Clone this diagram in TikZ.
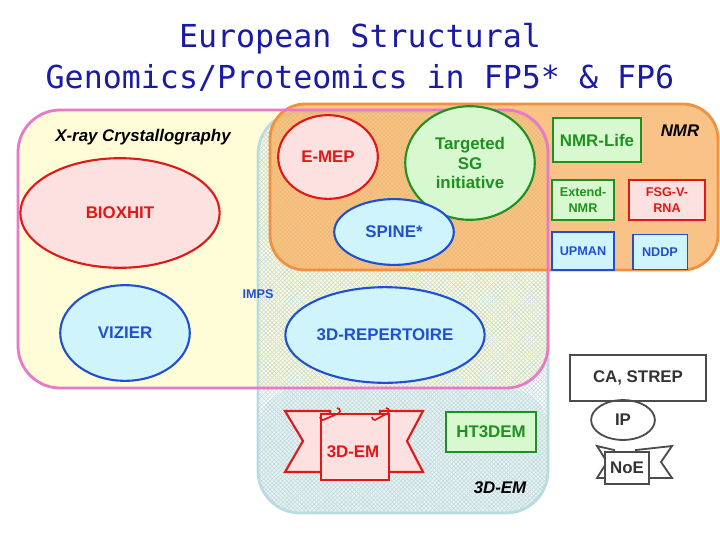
\documentclass[tikz,border=0pt]{standalone}
\usepackage{fontspec}
\setmainfont{Liberation Sans}
\newfontfamily\titlefont{DejaVu Sans Mono}
\usetikzlibrary{patterns,shapes.geometric}
\newcommand\px[1]{#1*0.7087pt}
\definecolor{tblue}{HTML}{1A1AA8}
\definecolor{pinkb}{HTML}{E878C8}
\definecolor{yell}{HTML}{FFFDD8}
\definecolor{orf}{HTML}{F8B060}
\definecolor{orb}{HTML}{F09040}
\definecolor{cyb}{HTML}{B8DCE0}
\definecolor{redb}{HTML}{E01818}
\definecolor{redf}{HTML}{FDE0E0}
\definecolor{grb}{HTML}{209020}
\definecolor{grf}{HTML}{D8F8D0}
\definecolor{blb}{HTML}{2050D0}
\definecolor{blf}{HTML}{D0F4FC}
\tikzset{
 ell/.style={ellipse,line width=1.5pt,inner sep=0pt,font=\bfseries\large},
 redell/.style={ell,draw=redb,fill=redf,text=redb},
 grell/.style={ell,draw=grb,fill=grf,text=grb},
 blell/.style={ell,draw=blb,fill=blf,text=blb},
 box/.style={rectangle,line width=1.3pt,align=center,inner sep=0pt,font=\bfseries\small},
 grbox/.style={box,draw=grb,fill=grf,text=grb},
 redbox/.style={box,draw=redb,fill=redf,text=redb},
 blbox/.style={box,draw=blb,fill=blf,text=blb},
 label/.style={font=\bfseries\itshape\large}
}
\begin{document}
\begin{tikzpicture}[x=0.025cm,y=-0.025cm]
\useasboundingbox (0,0) rectangle (720,540);
\fill[white] (0,0) rectangle (720,540);
\node[text=tblue,font=\titlefont\fontsize{22.5}{29}\selectfont,align=center] (title) at (360,57) {European Structural\\Genomics/Proteomics in FP5* \& FP6};
\fill[yell,rounded corners=30] (18,110) rectangle (548,388);
\fill[cyb!35,rounded corners=30] (258,388) rectangle (548,513);
\fill[pattern=crosshatch,pattern color=cyb!80!gray!70,rounded corners=30] (258,112) rectangle (548,513);
\draw[cyb,line width=2pt,rounded corners=30] (258,112) rectangle (548,513);
\fill[orf,opacity=0.75,rounded corners=25] (270,104) rectangle (718,270);
\draw[orb,line width=2pt,rounded corners=25] (270,104) rectangle (718,270);
\draw[pinkb,line width=2pt,rounded corners=30] (18,110) rectangle (548,388);
\node[label,font=\bfseries\itshape\large] (xray) at (143,137) {X-ray Crystallography};
\node[label] (nmrl) at (680,131) {NMR};
\node[label] (eml) at (500,488) {3D-EM};
\node[redell,minimum width=\px{200},minimum height=\px{110}] (bioxhit) at (120,213) {BIOXHIT};
\node[blell,minimum width=\px{130},minimum height=\px{96}] (vizier) at (125,333) {VIZIER};
\node[redell,minimum width=\px{100},minimum height=\px{84}] (emep) at (328,157) {E-MEP};
\node[grell,minimum width=\px{130},minimum height=\px{114},align=center] (tsg) at (470,163) {Targeted\\SG\\initiative};
\node[blell,minimum width=\px{120},minimum height=\px{66}] (spine) at (394,232) {SPINE*};
\node[text=blb,font=\bfseries\small] (imps) at (258,294) {IMPS};
\node[blell,minimum width=\px{200},minimum height=\px{96}] (rep) at (385,335) {3D-REPERTOIRE};
\node[grbox,minimum width=\px{88},minimum height=\px{44},font=\bfseries\large] (nmrlife) at (597,140) {NMR-Life};
\node[grbox,minimum width=\px{62},minimum height=\px{40}] (ext) at (583,200) {Extend-\\NMR};
\node[redbox,minimum width=\px{77},minimum height=\px{40}] (fsg) at (667,200) {FSG-V-\\RNA};
\node[blbox,minimum width=\px{62},minimum height=\px{38}] (upman) at (583,251) {UPMAN};
\node[blbox,minimum width=\px{55},minimum height=\px{35}] (nddp) at (660,252) {NDDP};
\node[box,draw=black!70,minimum width=\px{136},minimum height=\px{46},font=\bfseries\large,text=black!80] (ca) at (638,378) {CA, STREP};
\node[ellipse,draw=black!70,line width=1.3pt,minimum width=\px{64},minimum height=\px{40},inner sep=0pt,font=\bfseries\large,text=black!80] (ip) at (623,420) {IP};
\draw[black!70,line width=1.3pt,fill=white] (597,446)--(614,450)--(614,478)--(597,478)--(607,462)--cycle;
\draw[black!70,line width=1.3pt,fill=white] (672,446)--(636,450)--(636,478)--(672,478)--(661,462)--cycle;
\node[box,draw=black!70,fill=white,minimum width=\px{44},minimum height=\px{32},font=\bfseries\large,text=black!80] (noe) at (627,468) {NoE};
\draw[redb,line width=1.5pt,fill=redf] (285,411)--(330,411)--(330,472)--(285,472)--(303,441)--cycle;
\draw[redb,line width=1.5pt,fill=redf] (423,411)--(380,411)--(380,472)--(423,472)--(407,441)--cycle;
\node[box,draw=redb,fill=redf,minimum width=\px{69},minimum height=\px{66}] (em) at (355,447) {};
\node[text=redb,font=\bfseries\large] (emt) at (353,452) {3D-EM};
\draw[redb,line width=1.2pt] (320,417) arc (180:90:3) -- (337,414) arc (90:-90:3);
\draw[redb,line width=1.2pt] (372,417) arc (180:90:3) -- (386,414) arc (90:-90:3);
\node[grbox,minimum width=\px{90},minimum height=\px{40},font=\bfseries\large] (ht) at (491,432) {HT3DEM};
\end{tikzpicture}
\end{document}
